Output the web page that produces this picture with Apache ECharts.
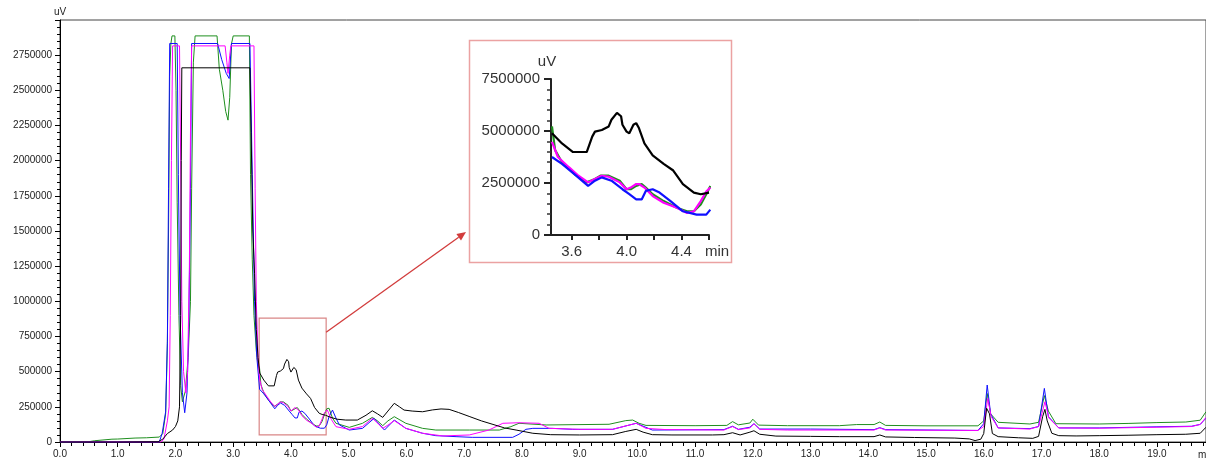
<!DOCTYPE html>
<html>
<head>
<meta charset="utf-8">
<script src="https://cdn.jsdelivr.net/npm/echarts@6/dist/echarts.min.js"></script>
<style>
  html, body { margin: 0; padding: 0; background: #fff; }
  #chart { width: 1206px; height: 462px; }
</style>
</head>
<body>
<div id="chart"></div>
<script>
// ---- Chromatogram traces: [retention time (min), signal (uV)] ----
const traceBlack = [
  [0,0],[1.0,0],[1.7,2000],[1.78,20000],[1.86,60000],[1.95,85000],[2.0,110000],[2.04,150000],
  [2.07,250000],[2.09,900000],[2.1,2000000],[2.11,2660000],[3.29,2660000],[3.31,2200000],
  [3.34,1500000],[3.37,1200000],[3.4,800000],[3.43,600000],[3.46,490000],[3.53,440000],
  [3.61,399000],[3.71,399000],[3.75,473000],[3.77,497000],[3.82,505000],[3.87,522000],
  [3.89,554000],[3.93,587000],[3.96,571000],[3.97,530000],[4.0,497000],[4.02,489000],
  [4.05,530000],[4.07,538000],[4.09,514000],[4.13,440000],[4.19,383000],[4.27,342000],
  [4.34,310000],[4.41,245000],[4.49,204000],[4.54,196000],[4.6,190000],[4.69,175000],
  [4.8,162000],[4.95,156000],[5.15,156000],[5.3,190000],[5.41,222000],[5.5,200000],
  [5.59,175000],[5.68,220000],[5.79,275000],[5.88,250000],[5.96,227000],[6.1,220000],
  [6.28,215000],[6.45,228000],[6.6,235000],[6.74,232000],[6.9,210000],[7.1,180000],
  [7.3,150000],[7.5,125000],[7.7,100000],[7.9,85000],[8.19,62000],[8.5,52000],[9.0,50000],
  [9.57,52000],[9.8,75000],[9.98,90000],[10.1,70000],[10.26,52000],[10.6,50000],[11.3,50000],
  [11.5,52000],[11.65,66000],[11.78,50000],[11.95,70000],[12.02,80000],[12.12,55000],
  [12.4,42000],[13.0,40000],[13.5,38000],[14.1,38000],[14.2,50000],[14.3,36000],[14.8,32000],
  [15.5,28000],[15.75,22000],[15.85,10000],[15.95,20000],[16.0,60000],[16.05,240000],
  [16.1,200000],[16.15,60000],[16.25,38000],[16.6,30000],[16.85,26000],[16.95,40000],
  [17.02,180000],[17.06,232000],[17.1,150000],[17.18,62000],[17.3,45000],[17.6,43000],
  [18.0,45000],[18.5,48000],[19.0,52000],[19.5,55000],[19.75,62000],[19.85,105000]
];
const traceGreen = [
  [0,0],[0.5,2000],[0.6,9000],[0.9,20000],[1.0,21000],[1.3,28000],[1.5,30000],[1.72,35000],
  [1.78,60000],[1.83,200000],[1.86,700000],[1.88,1500000],[1.9,2600000],[1.92,2830000],
  [1.94,2887000],[1.99,2887000],[2.01,2500000],[2.03,1700000],[2.06,900000],[2.09,400000],
  [2.12,286000],[2.17,360000],[2.22,600000],[2.26,1000000],[2.28,1800000],[2.31,2700000],
  [2.34,2887000],[2.72,2887000],[2.76,2650000],[2.82,2500000],[2.87,2350000],[2.91,2288000],
  [2.94,2450000],[2.97,2830000],[3.0,2887000],[3.28,2887000],[3.3,1900000],[3.33,1300000],
  [3.36,900000],[3.4,650000],[3.43,550000],[3.457,522000],[3.48,408000],[3.53,350000],
  [3.62,293000],[3.71,253000],[3.77,269000],[3.81,285000],[3.87,285000],[3.95,261000],
  [4.0,220000],[4.03,220000],[4.07,236000],[4.11,245000],[4.14,228000],[4.19,196000],
  [4.27,163000],[4.37,130000],[4.44,114000],[4.49,114000],[4.54,147000],[4.58,196000],
  [4.62,236000],[4.66,240000],[4.72,170000],[4.78,133000],[5.01,104000],[5.24,133000],
  [5.41,175000],[5.5,150000],[5.59,116000],[5.68,150000],[5.79,180000],[5.99,133000],
  [6.28,97000],[6.51,85000],[7.09,85000],[7.61,85000],[7.81,109000],[7.95,133000],
  [8.42,121000],[9.51,126000],[9.8,152000],[9.92,156000],[10.03,133000],[10.15,118000],
  [11.0,116000],[11.55,118000],[11.65,145000],[11.75,122000],[11.95,135000],[12.0,162000],
  [12.1,120000],[12.6,116000],[13.5,116000],[13.8,124000],[14.1,124000],[14.2,142000],
  [14.3,118000],[15.0,115000],[15.9,115000],[16.0,150000],[16.06,345000],[16.12,200000],
  [16.25,140000],[16.8,128000],[16.95,140000],[17.05,330000],[17.12,220000],[17.25,130000],
  [18.0,128000],[18.5,132000],[19.0,138000],[19.5,142000],[19.75,155000],[19.85,215000]
];
const traceMagenta = [
  [0,0],[1.75,0],[1.8,20000],[1.86,150000],[1.89,250000],[1.91,900000],[1.93,2000000],
  [1.95,2816000],[2.07,2816000],[2.09,2000000],[2.11,1000000],[2.14,500000],[2.18,348000],
  [2.21,500000],[2.24,1200000],[2.26,2200000],[2.28,2816000],[2.86,2816000],[2.89,2700000],
  [2.91,2620000],[2.94,2750000],[2.96,2816000],[3.36,2816000],[3.38,1800000],[3.4,1000000],
  [3.43,600000],[3.457,448000],[3.5,375000],[3.58,326000],[3.65,285000],[3.72,253000],
  [3.77,269000],[3.82,285000],[3.87,280000],[3.95,253000],[4.0,220000],[4.03,228000],
  [4.07,245000],[4.09,245000],[4.13,228000],[4.19,187000],[4.27,155000],[4.37,130000],
  [4.44,106000],[4.49,114000],[4.54,163000],[4.58,209000],[4.63,228000],[4.7,160000],
  [4.78,109000],[5.01,90000],[5.24,110000],[5.41,168000],[5.5,135000],[5.59,97000],
  [5.68,120000],[5.79,152000],[5.99,97000],[6.28,62000],[6.63,43000],[7.09,50000],
  [7.43,85000],[7.67,133000],[7.95,137000],[8.3,133000],[8.47,97000],[9.0,90000],
  [9.57,90000],[9.98,133000],[10.15,97000],[10.5,88000],[11.5,85000],[11.65,110000],
  [11.75,88000],[11.95,100000],[12.02,130000],[12.12,90000],[12.6,85000],[14.1,85000],
  [14.2,100000],[14.3,85000],[15.9,82000],[16.0,110000],[16.07,310000],[16.13,180000],
  [16.25,100000],[16.8,92000],[16.95,110000],[17.06,286000],[17.13,170000],[17.3,100000],
  [18.0,98000],[19.0,105000],[19.6,110000],[19.75,125000],[19.85,175000]
];
const traceBlue = [
  [0,0],[1.72,0],[1.77,62000],[1.83,215000],[1.86,713000],[1.88,1800000],[1.9,2833000],
  [2.03,2833000],[2.05,1900000],[2.08,900000],[2.12,350000],[2.16,208000],[2.2,350000],
  [2.23,800000],[2.26,1800000],[2.28,2833000],[2.73,2833000],[2.8,2720000],[2.88,2620000],
  [2.93,2584000],[2.97,2833000],[3.29,2833000],[3.33,1900000],[3.37,1000000],[3.41,600000],
  [3.457,375000],[3.53,342000],[3.62,293000],[3.72,236000],[3.77,261000],[3.82,277000],
  [3.89,261000],[3.97,220000],[4.02,196000],[4.07,171000],[4.11,171000],[4.14,212000],
  [4.19,220000],[4.24,204000],[4.32,163000],[4.41,114000],[4.51,98000],[4.58,98000],
  [4.62,122000],[4.66,180000],[4.72,227000],[4.78,170000],[4.84,121000],[5.01,85000],
  [5.24,97000],[5.44,168000],[5.62,85000],[5.79,156000],[5.99,97000],[6.28,62000],
  [6.51,45000],[6.86,38000],[7.14,33000],[7.84,33000],[7.95,55000],[8.07,90000],
  [8.19,97000],[8.53,97000],[8.88,90000],[9.57,90000],[9.98,133000],[10.26,85000],
  [11.5,88000],[11.65,112000],[11.75,90000],[11.95,105000],[12.02,130000],[12.12,92000],
  [13.0,92000],[14.1,88000],[14.2,102000],[14.3,88000],[15.9,82000],[16.0,130000],
  [16.06,405000],[16.12,200000],[16.25,100000],[16.8,95000],[16.95,110000],[17.05,381000],
  [17.12,180000],[17.3,100000],[18.0,100000],[19.0,108000],[19.6,112000],[19.75,125000],
  [19.85,170000]
];

// ---- Enlarged view of 3.45–4.6 min (its own uV scale) ----
const insetBlack = [
  [3.457,4890000],[3.53,4400000],[3.61,3990000],[3.71,3990000],[3.75,4730000],[3.77,4970000],
  [3.82,5050000],[3.87,5220000],[3.89,5540000],[3.93,5870000],[3.96,5710000],[3.97,5300000],
  [4.0,4970000],[4.02,4890000],[4.05,5300000],[4.07,5380000],[4.09,5140000],[4.13,4400000],
  [4.19,3830000],[4.27,3420000],[4.34,3100000],[4.41,2450000],[4.49,2040000],[4.54,1960000],
  [4.6,2040000]
];
const insetGreen = [
  [3.457,5220000],[3.48,4080000],[3.53,3500000],[3.62,2930000],[3.71,2530000],[3.77,2690000],
  [3.81,2850000],[3.87,2850000],[3.95,2610000],[4.0,2200000],[4.03,2200000],[4.07,2360000],
  [4.11,2450000],[4.14,2280000],[4.19,1960000],[4.27,1630000],[4.37,1300000],[4.44,1140000],
  [4.49,1140000],[4.54,1470000],[4.58,1960000],[4.61,2360000]
];
const insetMagenta = [
  [3.457,4480000],[3.5,3750000],[3.58,3260000],[3.65,2850000],[3.72,2530000],[3.77,2690000],
  [3.82,2850000],[3.87,2800000],[3.95,2530000],[4.0,2200000],[4.03,2280000],[4.07,2450000],
  [4.09,2450000],[4.13,2280000],[4.19,1870000],[4.27,1550000],[4.37,1300000],[4.44,1060000],
  [4.49,1140000],[4.54,1630000],[4.58,2090000],[4.61,2280000]
];
const insetBlue = [
  [3.457,3750000],[3.53,3420000],[3.62,2930000],[3.72,2360000],[3.77,2610000],[3.82,2770000],
  [3.89,2610000],[3.97,2200000],[4.02,1960000],[4.07,1710000],[4.11,1710000],[4.14,2120000],
  [4.19,2200000],[4.24,2040000],[4.32,1630000],[4.41,1140000],[4.51,980000],[4.58,980000],
  [4.61,1220000]
];

// ---- Axis ranges and tick settings ----
const mainX = { min: 0, max: 19.85, step: 1 };
const mainY = { min: 0, max: 3000000, step: 250000 };
const insetX = { min: 3.45, max: 4.6, ticks: [3.6, 3.8, 4.0, 4.2, 4.4, 4.6], labels: [3.6, 4.0, 4.4] };
const insetY = { min: 0, max: 7500000, step: 2500000 };
// Region of the main trace that is enlarged
const zoomRegion = { x0: 3.45, x1: 4.61, y0: 50000, y1: 880000 };

const COLORS = { black: '#000000', green: '#1f8f1f', blue: '#1010ff', magenta: '#ff00ff' };
const FONT = '"Liberation Sans", Arial, sans-serif';
const plain = v => String(Math.round(v));

const chart = echarts.init(document.getElementById('chart'), null, { renderer: 'canvas' });

function mainLine(name, data, color, extra) {
  return Object.assign({
    name, type: 'line', xAxisIndex: 0, yAxisIndex: 0, data,
    showSymbol: false, symbol: 'none', animation: false,
    lineStyle: { color, width: 1 }, itemStyle: { color }
  }, extra || {});
}
function insetLine(name, data, color) {
  return {
    name, type: 'line', xAxisIndex: 1, yAxisIndex: 1, data,
    showSymbol: false, symbol: 'none', animation: false, z: 5,
    lineStyle: { color, width: 2.2 }, itemStyle: { color }
  };
}

const axisDark = { lineStyle: { color: '#000', width: 1 } };

chart.setOption({
  animation: false,
  backgroundColor: '#fff',
  grid: [
    { left: 60, top: 20, right: 0, bottom: 20, show: true, borderColor: '#444', borderWidth: 1,
      containLabel: false, outerBoundsMode: 'none' },
    { left: 551, top: 79, width: 158, height: 156, containLabel: false, outerBoundsMode: 'none' }
  ],
  xAxis: [
    {
      type: 'value', gridIndex: 0, min: mainX.min, max: mainX.max, interval: mainX.step,
      axisLine: Object.assign({ show: true, onZero: false }, axisDark),
      axisTick: { show: true, length: 5, lineStyle: { color: '#000' } },
      minorTick: { show: true, splitNumber: 5, length: 4, lineStyle: { color: '#000' } },
      splitLine: { show: false }, minorSplitLine: { show: false },
      axisLabel: {
        fontFamily: FONT, fontSize: 10, color: '#222', margin: 7,
        formatter: v => (Math.abs(v - Math.round(v)) < 1e-6 ? v.toFixed(1) : '')
      }
    },
    {
      type: 'value', gridIndex: 1, min: insetX.min, max: insetX.max,
      axisLine: { show: true, onZero: false, lineStyle: { color: '#222', width: 2 } },
      axisTick: { show: true, length: 5, customValues: insetX.ticks, lineStyle: { color: '#222', width: 2 } },
      splitLine: { show: false },
      axisLabel: {
        fontFamily: FONT, fontSize: 15, color: '#333', margin: 9,
        customValues: insetX.labels, formatter: v => v.toFixed(1)
      }
    }
  ],
  yAxis: [
    {
      type: 'value', gridIndex: 0, min: mainY.min, max: mainY.max, interval: mainY.step,
      name: 'uV', nameLocation: 'end', nameGap: 3,
      nameTextStyle: { fontFamily: FONT, fontSize: 10, color: '#222', align: 'center' },
      axisLine: Object.assign({ show: true, onZero: false }, axisDark),
      axisTick: { show: true, length: 5, lineStyle: { color: '#000' } },
      minorTick: { show: true, splitNumber: 5, length: 3, lineStyle: { color: '#000' } },
      splitLine: { show: false }, minorSplitLine: { show: false },
      axisLabel: { fontFamily: FONT, fontSize: 10, color: '#222', margin: 8, showMaxLabel: false,
        formatter: plain }
    },
    {
      type: 'value', gridIndex: 1, min: insetY.min, max: insetY.max, interval: insetY.step,
      name: 'uV', nameLocation: 'end', nameGap: 10,
      nameTextStyle: { fontFamily: FONT, fontSize: 15, color: '#333', align: 'center', padding: [0, 8, 0, 0] },
      axisLine: { show: true, onZero: false, lineStyle: { color: '#222', width: 2 } },
      axisTick: { show: true, length: 7, lineStyle: { color: '#222', width: 2 } },
      minorTick: { show: true, splitNumber: 5, length: 4, lineStyle: { color: '#333', width: 1.5 } },
      splitLine: { show: false }, minorSplitLine: { show: false },
      axisLabel: { fontFamily: FONT, fontSize: 15, color: '#333', margin: 11, formatter: plain }
    }
  ],
  series: [
    mainLine('green', traceGreen, COLORS.green),
    mainLine('blue', traceBlue, COLORS.blue),
    mainLine('magenta', traceMagenta, COLORS.magenta),
    mainLine('black', traceBlack, COLORS.black, {
      markArea: {
        silent: true,
        itemStyle: { color: 'rgba(0,0,0,0)', borderColor: '#d98686', borderWidth: 1.2 },
        data: [[{ coord: [zoomRegion.x0, zoomRegion.y1] }, { coord: [zoomRegion.x1, zoomRegion.y0] }]]
      }
    }),
    insetLine('green', insetGreen, COLORS.green),
    insetLine('magenta', insetMagenta, COLORS.magenta),
    insetLine('blue', insetBlue, COLORS.blue),
    insetLine('black', insetBlack, COLORS.black)
  ]
});

// Frame of the enlarged view plus the connector arrow from the marked region
const frame = { x: 469.5, y: 40.5, w: 262, h: 222 };
const start = chart.convertToPixel({ gridIndex: 0 }, [zoomRegion.x1, 780000]);
const end = [frame.x - 3.5, 232];
const ang = Math.atan2(end[1] - start[1], end[0] - start[0]);
const headLen = 9, headHalf = 4;
const bx = end[0] - headLen * Math.cos(ang), by = end[1] - headLen * Math.sin(ang);
const head = [
  end,
  [bx + headHalf * Math.sin(ang), by - headHalf * Math.cos(ang)],
  [bx - headHalf * Math.sin(ang), by + headHalf * Math.cos(ang)]
];

chart.setOption({
  graphic: [
    { type: 'rect', id: 'insetFrame', z: -10, silent: true,
      shape: { x: frame.x, y: frame.y, width: frame.w, height: frame.h },
      style: { fill: '#fff', stroke: '#eba2a2', lineWidth: 1.5 } },
    { type: 'line', id: 'arrowLine', z: 10, silent: true,
      shape: { x1: start[0], y1: start[1], x2: bx, y2: by },
      style: { stroke: '#d23c3c', lineWidth: 1.3 } },
    { type: 'polygon', id: 'arrowHead', z: 10, silent: true,
      shape: { points: head }, style: { fill: '#d23c3c' } },
    { type: 'text', id: 'mainXName', z: 10, silent: true, left: 1198, top: 450,
      style: { text: 'min', font: '10px ' + FONT, fill: '#222' } },
    { type: 'text', id: 'insetXName', z: 10, silent: true, left: 705, top: 244,
      style: { text: 'min', font: '15px ' + FONT, fill: '#333' } }
  ]
});
</script>
</body>
</html>
